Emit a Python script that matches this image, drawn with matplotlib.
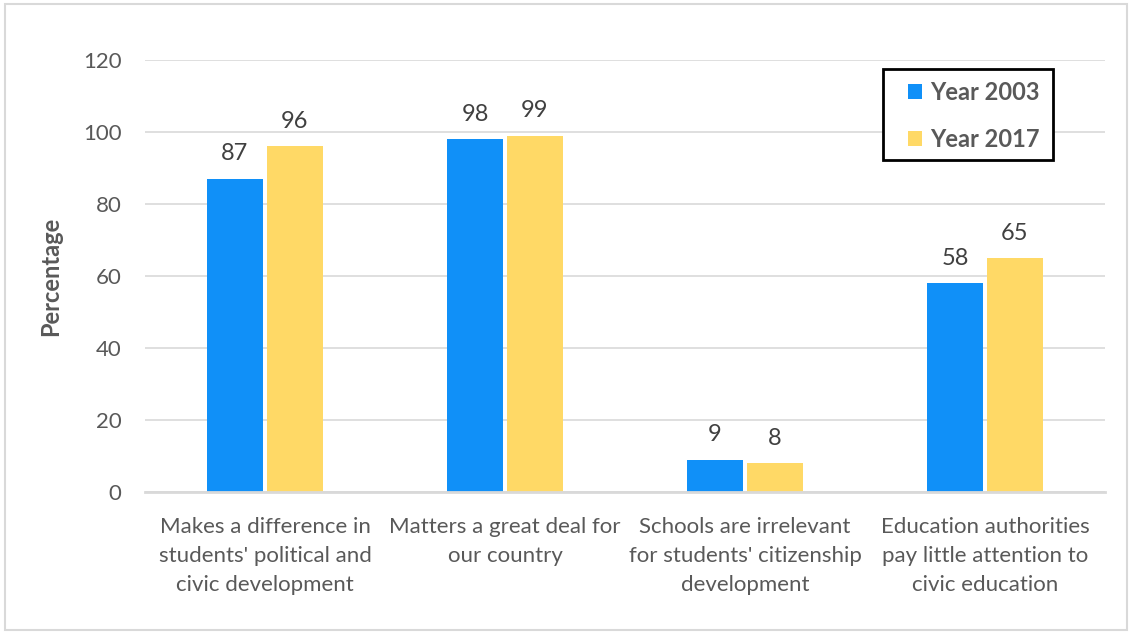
import numpy as np
import matplotlib.pyplot as plt
from matplotlib.patches import Rectangle

categories = [
    "Makes a difference in\nstudents' political and\ncivic development",
    "Matters a great deal for\nour country",
    "Schools are irrelevant\nfor students' citizenship\ndevelopment",
    "Education authorities\npay little attention to\ncivic education",
]
year_2003 = [87, 98, 9, 58]
year_2017 = [96, 99, 8, 65]
yticks = [0, 20, 40, 60, 80, 100, 120]

plt.rcParams['font.family'] = ['Lato', 'DejaVu Sans']
text_color = '#595959'
grid_color = '#d9d9d9'

fig = plt.figure(figsize=(11.32, 6.34), dpi=100)
ax = fig.add_axes([145 / 1132, 1 - 492 / 634, 960 / 1132, 432 / 634])

# light border round the whole chart
fig.patches.append(Rectangle((5 / 1132, 4 / 634), 1122 / 1132, 626 / 634,
                             transform=fig.transFigure, fill=False,
                             edgecolor=grid_color, linewidth=1.5))

x = np.arange(len(categories))
w = 56 / 240
gap = 4 / 240
b1 = ax.bar(x - (w + gap) / 2, year_2003, w, color='#1090f8', label='Year 2003', zorder=3)
b2 = ax.bar(x + (w + gap) / 2, year_2017, w, color='#ffd966', label='Year 2017', zorder=3)

for bars, vals in ((b1, year_2003), (b2, year_2017)):
    for bar, v in zip(bars, vals):
        ax.text(bar.get_x() + bar.get_width() / 2, v + 4, str(v),
                ha='center', va='bottom', fontsize=17, color='#404040')

ax.set_xlim(-0.5, len(categories) - 0.5)
ax.set_ylim(0, 120)
ax.set_yticks(yticks)
ax.set_xticks(x)
ax.set_xticklabels(categories, fontsize=16, color=text_color, linespacing=1.55)
ax.tick_params(axis='y', labelsize=16, labelcolor=text_color, length=0, pad=17)
ax.tick_params(axis='x', length=0, pad=18)
ax.yaxis.grid(True, color=grid_color, linewidth=1.2, zorder=0)
for side in ('top', 'right', 'left'):
    ax.spines[side].set_visible(False)
ax.spines['bottom'].set_color(grid_color)
ax.spines['bottom'].set_linewidth(2)
ax.spines['bottom'].set_zorder(4)

ax.set_ylabel('Percentage', fontsize=17, fontweight='bold', color=text_color, labelpad=15)

# legend entries without frame, boxed by a separate black rectangle
leg = ax.legend(loc='upper left', bbox_to_anchor=(763 / 960, (492 - 81) / 432),
                fontsize=17, frameon=False, handlelength=0.6,
                handleheight=0.6, handletextpad=0.35, borderpad=0, labelspacing=1.0,
                borderaxespad=0)
for t in leg.get_texts():
    t.set_color(text_color)
    t.set_fontweight('bold')
ax.add_patch(Rectangle((738 / 960, (492 - 160) / 432), 170 / 960, 91 / 432,
                       transform=ax.transAxes, fill=True, facecolor='white',
                       edgecolor='black', linewidth=2, zorder=5))
leg.set_zorder(6)

fig.savefig('out.png', dpi=100)
